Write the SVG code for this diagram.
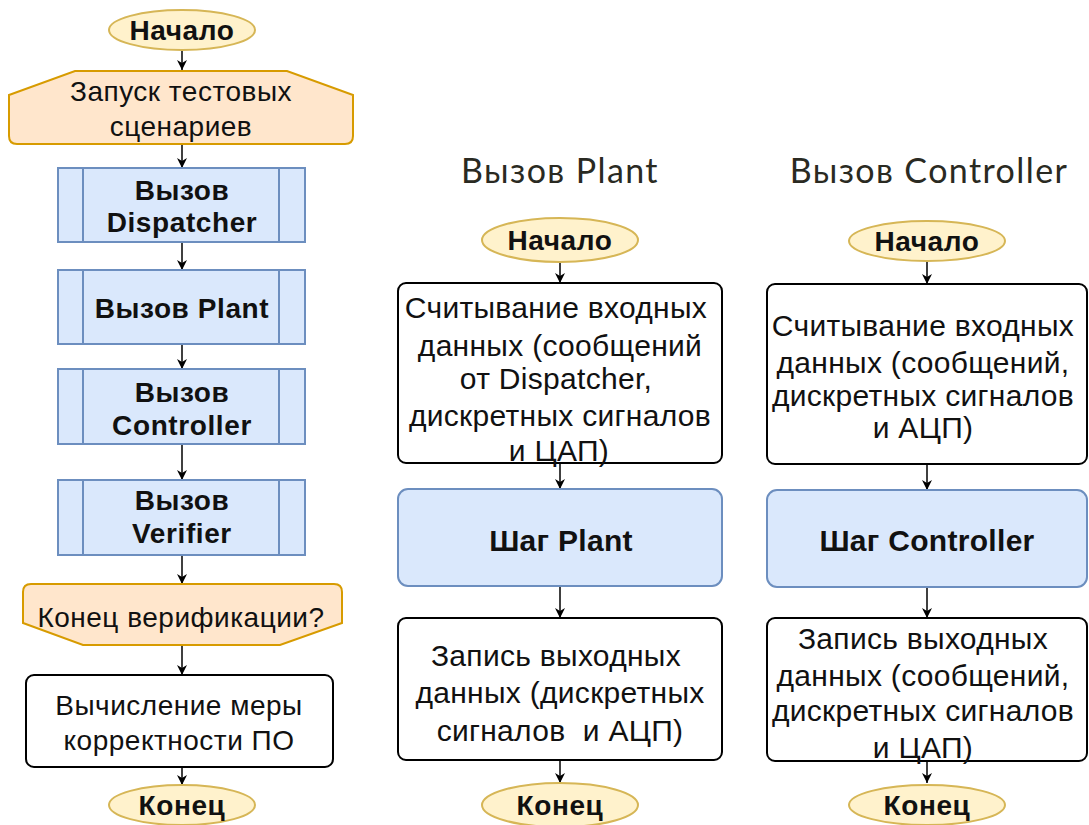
<svg xmlns="http://www.w3.org/2000/svg" width="1089" height="825" viewBox="0 0 1089 825">
  <defs>
    <marker id="arrow" viewBox="0 0 10 10" refX="10" refY="5" markerWidth="10" markerHeight="10" markerUnits="userSpaceOnUse" orient="auto">
      <path d="M0,0 L10,5 L0,10 L3,5 Z" fill="#000"/>
    </marker>
    <style>
      .term { fill: #fff2cc; stroke: #d6b656; stroke-width: 2; }
      .loop { fill: #ffe6cc; stroke: #d79b00; stroke-width: 2; }
      .sub { fill: #dae8fc; stroke: #6c8ebf; stroke-width: 2; }
      .proc { fill: #ffffff; stroke: #000000; stroke-width: 2; }
      .edge { fill: none; stroke: #000000; stroke-width: 1.5; marker-end: url(#arrow); }
      text { font-family: "Liberation Sans", Arial, sans-serif; fill: #111; text-anchor: middle; }
      .b { font-weight: bold; font-size: 28px; letter-spacing: 0.6px; }
      .bl { font-weight: bold; font-size: 30px; letter-spacing: 0.3px; }
      .t26 { font-size: 28px; letter-spacing: 0.5px; }
      .t28 { font-size: 30px; letter-spacing: 0.3px; }
      .title { font-family: "Lato", "Noto Sans", sans-serif; font-size: 34px; letter-spacing: 1.4px; fill: #2a2a22; }
    </style>
  </defs>
  <rect width="1089" height="825" fill="#ffffff"/>

  <!-- connectors -->
  <g id="connectors">
    <path class="edge" d="M182,50 V70"/>
    <path class="edge" d="M182,144 V168"/>
    <path class="edge" d="M182,242 V270"/>
    <path class="edge" d="M182,344 V369"/>
    <path class="edge" d="M182,444 V480"/>
    <path class="edge" d="M182,555 V584"/>
    <path class="edge" d="M182,645 V675"/>
    <path class="edge" d="M182,767 V785"/>

    <path class="edge" d="M560,263 V283"/>
    <path class="edge" d="M560,463 V489"/>
    <path class="edge" d="M560,586 V618"/>
    <path class="edge" d="M560,760 V783"/>

    <path class="edge" d="M927,262 V284"/>
    <path class="edge" d="M927,464 V490"/>
    <path class="edge" d="M927,587 V618"/>
    <path class="edge" d="M927,761 V783"/>
  </g>

  <!-- main flow -->
  <g id="main-start">
    <ellipse class="term" cx="182" cy="30" rx="73" ry="20"/>
    <text class="b" x="182" y="40">Начало</text>
  </g>
  <g id="main-scenarios">
    <path class="loop" d="M75,71 H287 L353,95 V136 Q353,144 345,144 H17 Q9,144 9,136 V95 Z"/>
    <text class="t26" x="181" y="101">Запуск тестовых</text>
    <text class="t26" x="181" y="136">сценариев</text>
  </g>
  <g id="call-dispatcher">
    <rect class="sub" x="58" y="168" width="247" height="74"/>
    <path class="sub" d="M83,168 V242 M279,168 V242"/>
    <text class="b" x="182" y="200">Вызов</text>
    <text class="b" x="182" y="232">Dispatcher</text>
  </g>
  <g id="call-plant">
    <rect class="sub" x="58" y="270" width="247" height="74"/>
    <path class="sub" d="M83,270 V344 M279,270 V344"/>
    <text class="b" x="182" y="318">Вызов Plant</text>
  </g>
  <g id="call-controller">
    <rect class="sub" x="58" y="369" width="247" height="75"/>
    <path class="sub" d="M83,369 V444 M279,369 V444"/>
    <text class="b" x="182" y="402">Вызов</text>
    <text class="b" x="182" y="435">Controller</text>
  </g>
  <g id="call-verifier">
    <rect class="sub" x="58" y="480" width="247" height="75"/>
    <path class="sub" d="M83,480 V555 M279,480 V555"/>
    <text class="b" x="182" y="510">Вызов</text>
    <text class="b" x="182" y="543">Verifier</text>
  </g>
  <g id="verification-end">
    <path class="loop" d="M31,584 H334 Q342,584 342,592 V623 L280,645 H83 L23,623 V592 Q23,584 31,584 Z"/>
    <text class="t26" x="181" y="627">Конец верификации?</text>
  </g>
  <g id="correctness">
    <rect class="proc" x="26" y="675" width="307" height="92" rx="8"/>
    <text class="t26" x="179" y="715">Вычисление меры</text>
    <text class="t26" x="179" y="750">корректности ПО</text>
  </g>
  <g id="main-end">
    <ellipse class="term" cx="182" cy="805" rx="73" ry="20"/>
    <text class="b" x="182" y="815">Конец</text>
  </g>

  <!-- Plant call -->
  <text class="title" x="560" y="183">Вызов Plant</text>
  <g id="plant-start">
    <ellipse class="term" cx="560" cy="240" rx="78" ry="22"/>
    <text class="b" x="560" y="250">Начало</text>
  </g>
  <g id="plant-read">
    <rect class="proc" x="398" y="283" width="324" height="180" rx="8"/>
    <text class="t28" x="556" y="318">Считывание входных</text>
    <text class="t28" x="560" y="356">данных (сообщений</text>
    <text class="t28" x="556" y="389">от Dispatcher,</text>
    <text class="t28" x="560" y="426">дискретных сигналов</text>
    <text class="t28" x="559" y="461">и ЦАП)</text>
  </g>
  <g id="plant-step">
    <rect class="sub" x="398" y="489" width="324" height="97" rx="10"/>
    <text class="bl" x="561" y="551">Шаг Plant</text>
  </g>
  <g id="plant-write">
    <rect class="proc" x="398" y="618" width="324" height="142" rx="8"/>
    <text class="t28" x="556" y="666">Запись выходных</text>
    <text class="t28" x="560" y="703">данных (дискретных</text>
    <text class="t28" x="560" y="741" xml:space="preserve">сигналов  и АЦП)</text>
  </g>
  <g id="plant-end">
    <ellipse class="term" cx="560" cy="805" rx="78" ry="22"/>
    <text class="b" x="560" y="815">Конец</text>
  </g>

  <!-- Controller call -->
  <text class="title" x="929" y="183">Вызов Controller</text>
  <g id="controller-start">
    <ellipse class="term" cx="927" cy="241" rx="78" ry="20"/>
    <text class="b" x="927" y="251">Начало</text>
  </g>
  <g id="controller-read">
    <rect class="proc" x="767" y="284" width="320" height="180" rx="8"/>
    <text class="t28" x="923" y="336">Считывание входных</text>
    <text class="t28" x="923" y="373">данных (сообщений,</text>
    <text class="t28" x="923" y="406">дискретных сигналов</text>
    <text class="t28" x="923" y="438">и АЦП)</text>
  </g>
  <g id="controller-step">
    <rect class="sub" x="767" y="490" width="320" height="97" rx="10"/>
    <text class="bl" x="927" y="551">Шаг Controller</text>
  </g>
  <g id="controller-write">
    <rect class="proc" x="767" y="618" width="320" height="143" rx="8"/>
    <text class="t28" x="923" y="649">Запись выходных</text>
    <text class="t28" x="923" y="686">данных (сообщений,</text>
    <text class="t28" x="923" y="721">дискретных сигналов</text>
    <text class="t28" x="923" y="758">и ЦАП)</text>
  </g>
  <g id="controller-end">
    <ellipse class="term" cx="927" cy="805" rx="78" ry="20"/>
    <text class="b" x="927" y="815">Конец</text>
  </g>
</svg>
